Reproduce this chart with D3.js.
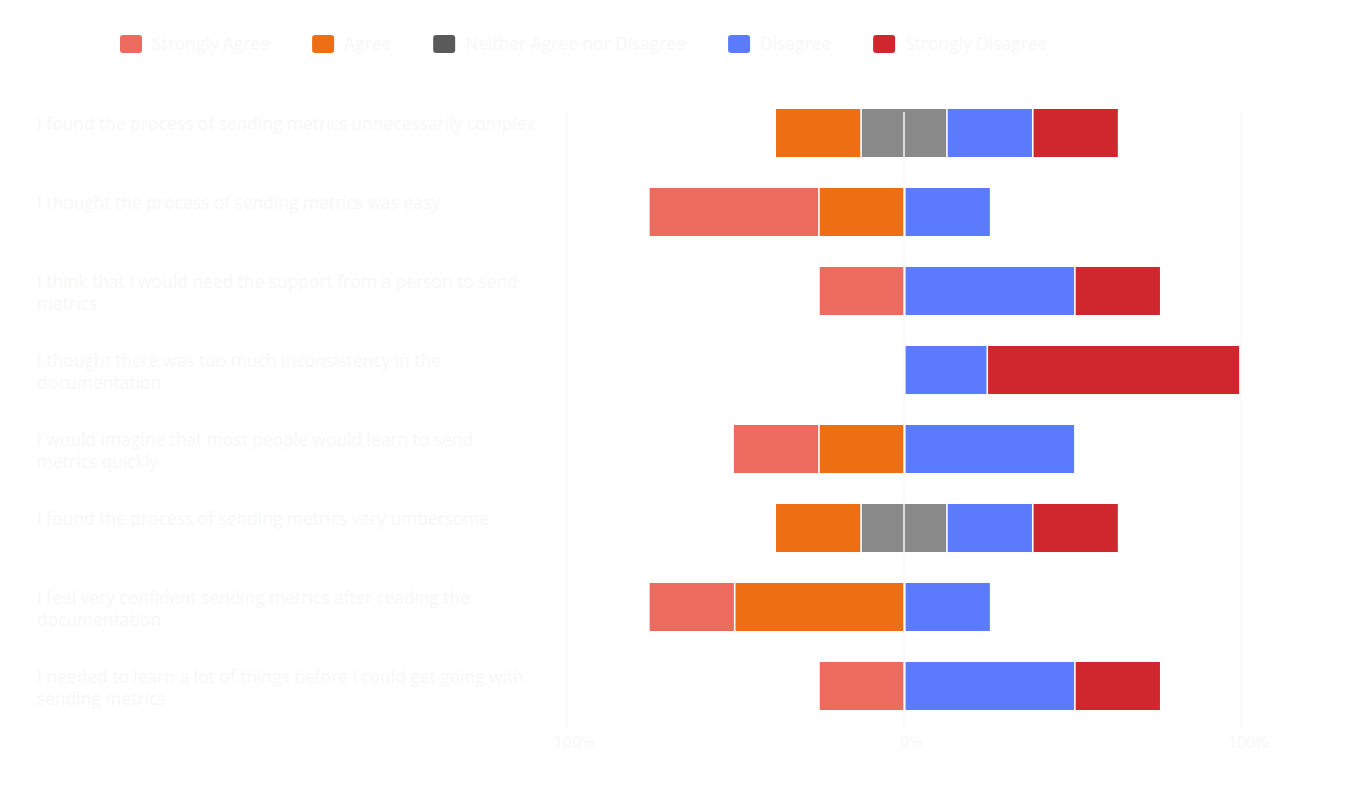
<!DOCTYPE html>
<html>
<head>
    <title>Likert Chart with D3.js</title>
    <style>
        body { margin: 0; background: #ffffff; }
        text { font-family: "Open Sans", sans-serif; fill: #f7f7f7; }
    </style>
</head>
<body>
    <div id="chart"></div>

    <script src="https://d3js.org/d3.v7.min.js"></script>
    <script>
        // data: share of answers per statement
        var categories = [
            "I found the process of sending metrics unnecessarily complex",
            "I thought the process of sending metrics was easy",
            "I think that i would need the support from a person to send\nmetrics",
            "I thought there was too much inconsistency in the\ndocumentation",
            "I would imagine that most people would learn to send\nmetrics quickly",
            "I found the process of sending metrics very umbersome",
            "I feel very confident sending metrics after reading the\ndocumentation",
            "I needed to learn a lot of things before i could get going with\nsending metrics"
        ];
        var answers = ["Strongly Agree", "Agree", "Neither Agree nor Disagree", "Disagree", "Strongly Disagree"];
        var stronglyAgree    = [0, 0.5, 0.25, 0, 0.25, 0, 0.25, 0.25];
        var agree            = [0.25, 0.25, 0, 0, 0.25, 0.25, 0.5, 0];
        var neither          = [0.25, 0, 0, 0, 0, 0.25, 0, 0];
        var disagree         = [0.25, 0.25, 0.5, 0.24, 0.5, 0.25, 0.25, 0.5];
        var stronglyDisagree = [0.25, 0, 0.25, 0.745, 0, 0.25, 0, 0.25];
        var tickValues = [-1, 0, 1];
        var tickLabels = ["100%", "0%", "100%"];

        var series = [stronglyAgree, agree, neither, disagree, stronglyDisagree];
        var barColors = ["#ec6a5e", "#ee6f13", "#898989", "#5b7bfc", "#d0262e"];
        var legendColors = ["#ec6a5e", "#ee6f13", "#5a5a5a", "#5b7bfc", "#d0262e"];
        var gap = 1.6; // white gap between segments

        var width = 1347, height = 788;

        var svg = d3.select("#chart").append("svg")
            .attr("width", width)
            .attr("height", height);

        var x = d3.scaleLinear().domain([-1, 1]).range([567, 1241]);
        var y = d3.scaleBand().domain(d3.range(categories.length))
            .range([93.5, 725.5])
            .paddingInner(0.392)
            .paddingOuter(0.196);

        // diverging segments: half of neutral on each side of zero
        var segments = [];
        categories.forEach(function (c, i) {
            var left = [], right = [];
            var n = neither[i];
            if (n > 0) {
                left.push({ k: 2, v: n / 2 });
                right.push({ k: 2, v: n / 2 });
            }
            [1, 0].forEach(function (k) { if (series[k][i] > 0) left.push({ k: k, v: series[k][i] }); });
            [3, 4].forEach(function (k) { if (series[k][i] > 0) right.push({ k: k, v: series[k][i] }); });

            var pos = 0, shift = 0;
            left.forEach(function (s, j) {
                if (j > 0) shift -= gap;
                segments.push({ row: i, k: s.k, x0: pos - s.v, x1: pos, shift: shift });
                pos -= s.v;
            });
            pos = 0; shift = 0;
            right.forEach(function (s) {
                if (s.k !== 2) shift += gap;
                segments.push({ row: i, k: s.k, x0: pos, x1: pos + s.v, shift: shift });
                pos += s.v;
            });
        });

        svg.append("g").selectAll("rect")
            .data(segments)
            .enter()
            .append("rect")
            .attr("x", function (d) { return x(d.x0) + d.shift; })
            .attr("width", function (d) { return x(d.x1) - x(d.x0); })
            .attr("y", function (d) { return y(d.row); })
            .attr("height", y.bandwidth())
            .attr("fill", function (d) { return barColors[d.k]; });

        // grid lines sit on top of the bars
        svg.append("g").selectAll("line")
            .data(tickValues)
            .enter()
            .append("line")
            .attr("x1", function (d) { return x(d); })
            .attr("x2", function (d) { return x(d); })
            .attr("y1", 112)
            .attr("y2", 728)
            .attr("stroke", "#f9f9f9")
            .attr("stroke-width", 1.5);

        // x tick labels
        svg.append("g").selectAll("text")
            .data(tickValues)
            .enter()
            .append("text")
            .attr("x", function (d) { return x(d) + 7; })
            .attr("y", 742)
            .attr("dy", "0.35em")
            .attr("text-anchor", "middle")
            .style("font-size", "16px")
            .text(function (d, i) { return tickLabels[i]; });

        // category labels, first line a bit above band centre
        var labels = svg.append("g").selectAll("text")
            .data(categories)
            .enter()
            .append("text")
            .attr("x", 37)
            .attr("y", function (d, i) { return y(i) + y.bandwidth() / 2 - 9; })
            .style("font-size", "17.4px");

        labels.each(function (d) {
            var t = d3.select(this);
            var ty = t.attr("y");
            d.split("\n").forEach(function (line, j) {
                t.append("tspan")
                    .attr("x", 37)
                    .attr("y", +ty + j * 22)
                    .attr("dy", "0.35em")
                    .text(line);
            });
        });

        // legend
        var legend = svg.append("g");
        var lx = 120;
        answers.forEach(function (a, k) {
            legend.append("rect")
                .attr("x", lx)
                .attr("y", 35)
                .attr("width", 22)
                .attr("height", 18)
                .attr("rx", 3)
                .attr("fill", legendColors[k]);
            var t = legend.append("text")
                .attr("x", lx + 32)
                .attr("y", 44)
                .attr("dy", "0.35em")
                .style("font-size", "17.4px")
                .text(a);
            lx += 32 + t.node().getComputedTextLength() + 42;
        });
    </script>
</body>
</html>
